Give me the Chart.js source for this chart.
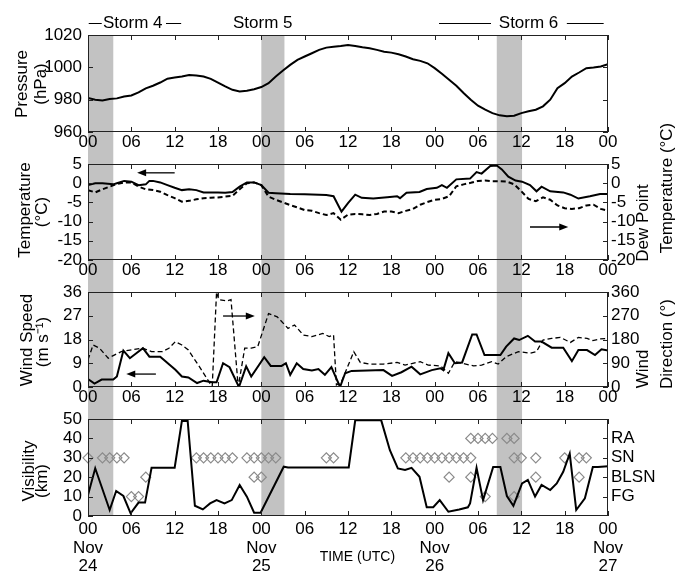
<!DOCTYPE html>
<html>
<head>
<meta charset="utf-8">
<script src="https://cdn.jsdelivr.net/npm/chart.js@4/dist/chart.umd.min.js"></script>
<style>
    html, body { margin: 0; padding: 0; background: #fff; }
    #wrap { position: relative; width: 680px; height: 573px; }
    #wrap canvas { position: absolute; left: 0; top: 0; }
</style>
</head>
<body>
<div id="wrap">
    <canvas id="pressureChart" width="680" height="573"></canvas>
    <canvas id="tempChart" width="680" height="573"></canvas>
    <canvas id="windChart" width="680" height="573"></canvas>
    <canvas id="visChart" width="680" height="573"></canvas>
</div>
<script>
// Time axis (hours since 00 UTC Nov 24)
const hourTicks = [0, 6, 12, 18, 24, 30, 36, 42, 48, 54, 60, 66, 72];
const hourLabels = ['00', '06', '12', '18', '00', '06', '12', '18', '00', '06', '12', '18', '00'];
const dateTicks = [0, 24, 48, 72];
const dateLabels = [['Nov', '24'], ['Nov', '25'], ['Nov', '26'], ['Nov', '27']];

// Storm periods (shaded) in hours
const stormBands = [[0, 3.5], [24, 27.2], [56.6, 60.1]];

// Pressure (hPa), hourly
const pressureHours = [0,1,2,3,4,5,6,7,8,9,10,11,12,13,14,15,16,17,18,19,20,21,22,23,24,25,26,27,28,29,30,31,32,33,34,35,36,37,38,39,40,41,42,43,44,45,46,47,48,49,50,51,52,53,54,55,56,57,58,59,60,61,62,63,64,65,66,67,68,69,70,71,72];
const pressure = [981,980,979.5,980.4,980.8,982,982.6,984.5,987,988.6,990.6,993,993.7,994.3,995.2,995,994.3,992.9,990.6,988.2,986.1,985.1,985.5,986.5,987.8,990.2,994.3,998,1001.5,1004.6,1006.7,1008.7,1010.8,1012.2,1012.8,1013.2,1013.8,1013.2,1012.4,1011.8,1010.8,1009.7,1009.1,1008.1,1006.7,1005,1004,1002.5,999.5,996,992.3,988.6,984.1,980,976.3,973.8,971.7,970.3,969.7,970.1,971.7,972.8,973.8,975.9,980,987.1,990.2,994.3,996.8,999.5,999.9,1000.5,1002];

// Temperature (°C)
const tempHours = [0,1,2,3.5,4,5,6,7,8,8.5,9,10,11,12,13,14,15,16,17,18,19,20,21,22,23,24,25,26,28,30,32,33,34,35.1,36,37,37.9,39.5,41.8,42.8,43.2,44.1,45.9,46.9,48.3,49,49.7,51,52.9,53.8,54.5,55.7,56.6,57.3,58.2,59.2,60.1,61.2,62.1,62.8,64,65.8,66.8,67.9,69.5,70.9,72];
const temperature = [-0.5,0,0,-0.3,0,0.6,0.4,-0.5,-0.3,0.6,0.6,0.2,-0.5,-1.2,-1.8,-1.6,-1.8,-2.4,-2.4,-2.4,-2.5,-2.3,-0.9,0.2,0.2,-0.5,-2.5,-2.6,-2.8,-2.9,-3.0,-3.1,-3.4,-7.4,-5.2,-3,-3.8,-4,-3.6,-3.4,-3.9,-2.5,-2.3,-1.5,-1.2,-0.5,-1.2,1,1.2,2.9,2.5,4.5,4.6,3.6,1.7,0.7,0.4,-0.5,-2.1,-0.9,-2.1,-2.4,-3,-4,-3.4,-2.8,-2.8];

// Dew point (°C)
const dewHours = [0,1,2,3,4,5,6,7,8,9,10,11,12,13,14,15,16,17,18,19,20,21,22,23,24,25,26,27,28,29,30,31,32,33,34,35,36,37,38,39,40,41,42,43,44,45,46,47,48,49,50,51,52,53,54,55,56,57,58,59,60,61,62,63,64,65,66,67,68,69,70,71,72];
const dewPoint = [-1.8,-2.4,-1.6,-0.9,-0.2,0.2,0.2,-0.9,-1.6,-1.8,-2.2,-3.1,-3.9,-4.8,-4.6,-4.2,-3.9,-3.8,-3.7,-3.5,-3.3,-1.6,0,0.2,-0.5,-3.5,-4.3,-5,-5.7,-6.3,-7,-7.2,-7.8,-8.3,-7.8,-9.5,-8.2,-8,-8.1,-8.3,-8,-7.4,-7.4,-7.8,-7.2,-6.7,-5.6,-4.9,-4.3,-4.1,-3.4,-0.8,-0.3,0.1,0.6,0.7,0.5,0.5,0.4,-0.3,-2.1,-4.1,-4.7,-3.7,-4.3,-5.8,-6.5,-6.7,-6.5,-5.8,-5.6,-6.7,-7.2];

// Wind speed (m s-1)
const windHours = [0,0.9,1.9,3.5,4,4.9,5.8,7.6,8.5,10,12.1,13,13.9,15.1,16,17.2,17.8,18.7,19.6,20.9,21.9,22.6,24.4,25.3,26.8,27.4,28,28.9,29.8,31,31.9,32.8,33.7,34.9,35.6,36.5,40.9,42.1,43.4,44.8,46,47.6,48.8,49.2,49.9,50.8,51.8,53.2,53.8,54.9,57.1,57.9,59,59.7,60.9,61.9,62.8,64.2,65.8,67,67.9,69.1,70.2,71.1,72];
const windSpeed = [3,1.3,2.8,2.8,4,13.8,10.9,14.7,11.5,11.5,6.5,4,3.6,1.5,2.4,1.8,1.8,9,7.5,0,7.8,4,11.3,8,8,9,4.6,9,6.8,6.3,6.8,4.6,7.5,0,5.2,6.1,6.4,4.2,5.6,7.7,4.8,6.4,7.1,6.4,12.8,9,9.3,19.9,19.9,12.1,12.1,15.3,18.4,17.8,19.4,17.2,17.2,14.9,14.9,9.8,14,14,12.1,14.3,13.8];

// Wind direction (deg)
const dirHours = [0,0.7,1.6,2.8,3.7,4.6,5.8,7.6,8.8,10.3,11.2,12.1,13,13.9,15.4,16.9,17.2,17.8,18.1,19.3,19.8,20.8,21.7,22.6,23.5,24.1,25,26.2,27.7,28.6,29.8,31,32.5,33.4,34,34.4,35.1,36.8,37.7,39,40.9,42.8,43.9,46,47.1,48.8,49.9,50.8,51.8,53.4,54.5,55.9,56.8,57.9,59.6,61.2,62.1,63,64.2,65.4,66.8,67.9,69.1,69.9,70.9,72];
const windDir = [103,159,147,109,122,134,140,147,134,134,147,172,159,140,78,13,3,360,331,326,331,0,147,147,153,203,278,266,222,235,197,191,203,191,197,8,20,134,93,87,87,93,83,96,83,80,52,96,90,80,83,96,87,115,134,128,134,178,184,188,169,188,184,176,182,184];

// Visibility (km)
const visHours = [0,1,3,3.9,4.9,5.9,7,7.9,8.8,12,13,13.8,14.8,15.9,16.9,17.8,18.9,19.9,21,22,23,23.9,27.1,27.7,36.1,37,40.6,41.8,42.9,43.9,44.8,45.9,46.9,47.8,48.7,49.9,51.4,52.6,52.9,53.8,54.7,56.1,57.1,58,58.9,60.1,60.9,61.9,62.8,64,64.9,65.8,66.7,67.6,68.8,69.9,70.6,72];
const visibility = [10.8,24.6,3.1,12.9,10.3,1.4,6.9,6.9,24.9,24.9,49,49,5.3,3.4,6.5,8.2,6.5,8.2,16,10,1.7,1.7,25.4,25,25,49.3,49.3,33.9,24.5,23.7,24.8,20.2,4.5,4.5,8.2,2.2,3.4,4.5,6.5,24.8,8.2,25.3,25.3,10.3,5.2,16.8,18.6,10,16,13.4,16.8,22.8,32.2,3.1,9.1,25.3,25.3,25.6];

// Present weather codes
const wxCodes = ['FG', 'BLSN', 'SN', 'RA'];
const wxLevels = [10, 20, 30, 40];
const fgHours = [6, 7, 55, 59];
const blsnHours = [8, 23, 24, 50, 53, 62, 68];
const snHours = [0, 2, 3, 4, 5, 15, 16, 17, 18, 19, 20, 22, 23, 24, 25, 26, 33, 34, 44, 45, 46, 47, 48, 49, 50, 51, 52, 53, 59, 60, 62, 66, 68, 69];
const raHours = [53, 54, 55, 56, 58, 59];

// Y tick values
const pressureTicks = [960, 980, 1000, 1020];
const tempTicks = [-20, -15, -10, -5, 0, 5];
const speedTicks = [0, 9, 18, 27, 36];
const dirTicks = [0, 90, 180, 270, 360];
const visTicks = [0, 10, 20, 30, 40, 50];

// Storm labels along the top
const storms = [
    { name: 'Storm 4', at: 6.2, lines: [[0.1, 1.9], [10.8, 12.9]] },
    { name: 'Storm 5', at: 24.2, lines: [] },
    { name: 'Storm 6', at: 61, lines: [[48.6, 55.8], [66.3, 71.4]] }
];

const FONT = "'Liberation Sans', Arial, sans-serif";
const BAND_COLOR = '#c2c2c2';
const CANVAS_H = 573;
const LEFT_W = 88;
const RIGHT_W = 72;

Chart.defaults.font.family = FONT;
Chart.defaults.font.size = 17;
Chart.defaults.color = '#000';

function zip(xs, ys) {
    return xs.map((x, i) => ({ x: x, y: ys[i] }));
}

function level(hours, value) {
    return hours.map(h => ({ x: h, y: value }));
}

// Rotated text (reads bottom to top)
function vText(ctx, text, x, y, size) {
    ctx.save();
    ctx.translate(x, y);
    ctx.rotate(-Math.PI / 2);
    ctx.font = `${size || 17}px ${FONT}`;
    ctx.fillStyle = '#000';
    ctx.textAlign = 'center';
    ctx.textBaseline = 'middle';
    ctx.fillText(text, 0, 0);
    ctx.restore();
}

function drawArrow(ctx, x0, y0, x1, y1) {
    const dir = Math.sign(x1 - x0);
    ctx.save();
    ctx.strokeStyle = '#000';
    ctx.fillStyle = '#000';
    ctx.lineWidth = 1.3;
    ctx.beginPath();
    ctx.moveTo(x0, y0);
    ctx.lineTo(x1 - dir * 6, y1);
    ctx.stroke();
    ctx.beginPath();
    ctx.moveTo(x1, y1);
    ctx.lineTo(x1 - dir * 9, y1 - 3.5);
    ctx.lineTo(x1 - dir * 9, y1 + 3.5);
    ctx.closePath();
    ctx.fill();
    ctx.restore();
}

// Shading, frame, inward ticks, titles and arrows for one panel
function makeDecor(spec) {
    return {
        id: 'decor',
        beforeDraw(chart) {
            const { ctx, chartArea: a, scales: { x } } = chart;
            ctx.save();
            ctx.fillStyle = BAND_COLOR;
            stormBands.forEach(([h0, h1]) => {
                const x0 = x.getPixelForValue(h0);
                const x1 = x.getPixelForValue(h1);
                ctx.fillRect(x0, a.top, x1 - x0, spec.bandBottom - a.top);
            });
            ctx.restore();
        },
        afterDraw(chart) {
            const { ctx, chartArea: a, scales } = chart;
            ctx.save();
            ctx.strokeStyle = '#222';
            ctx.lineWidth = 1;
            ctx.strokeRect(a.left + 0.5, a.top + 0.5, a.right - a.left - 1, a.bottom - a.top - 1);

            // inward tick marks
            ctx.beginPath();
            scales.x.ticks.forEach(t => {
                const px = Math.round(scales.x.getPixelForValue(t.value)) + 0.5;
                ctx.moveTo(px, a.top); ctx.lineTo(px, a.top + 5);
                ctx.moveTo(px, a.bottom); ctx.lineTo(px, a.bottom - 5);
            });
            scales.y.ticks.forEach(t => {
                const py = Math.round(scales.y.getPixelForValue(t.value)) + 0.5;
                ctx.moveTo(a.left, py); ctx.lineTo(a.left + 5, py);
                if (!scales.yR) { ctx.moveTo(a.right, py); ctx.lineTo(a.right - 5, py); }
            });
            if (scales.yR) {
                scales.yR.ticks.forEach(t => {
                    const py = Math.round(scales.yR.getPixelForValue(t.value)) + 0.5;
                    ctx.moveTo(a.right, py); ctx.lineTo(a.right - 5, py);
                });
            }
            ctx.stroke();
            ctx.restore();

            // axis titles
            spec.titles.forEach(t => vText(ctx, t.text, t.x, t.y));

            // arrows pointing at the axis of each curve
            (spec.arrows || []).forEach(ar => {
                const s = scales[ar.axis];
                const y = s.getPixelForValue(ar.value);
                drawArrow(ctx, scales.x.getPixelForValue(ar.from), y, scales.x.getPixelForValue(ar.to), y);
            });

            if (spec.extra) spec.extra(chart);
        }
    };
}

// Storm names above the top panel
function drawStorms(chart) {
    const { ctx, chartArea: a, scales: { x } } = chart;
    const y = a.top - 12;
    ctx.save();
    ctx.font = `17px ${FONT}`;
    ctx.fillStyle = '#000';
    ctx.strokeStyle = '#000';
    ctx.lineWidth = 1;
    ctx.textAlign = 'center';
    ctx.textBaseline = 'middle';
    storms.forEach(s => {
        ctx.fillText(s.name, x.getPixelForValue(s.at), y);
        s.lines.forEach(([h0, h1]) => {
            ctx.beginPath();
            ctx.moveTo(x.getPixelForValue(h0), y + 0.5);
            ctx.lineTo(x.getPixelForValue(h1), y + 0.5);
            ctx.stroke();
        });
    });
    ctx.restore();
}

function drawTimeTitle(chart) {
    const { ctx, chartArea: a, scales: { x } } = chart;
    ctx.save();
    ctx.font = `14px ${FONT}`;
    ctx.fillStyle = '#000';
    ctx.textAlign = 'center';
    ctx.textBaseline = 'middle';
    ctx.fillText('TIME (UTC)', x.getPixelForValue(37.3), a.bottom + 41);
    ctx.restore();
}

function xScale(withDates, axisH) {
    return {
        type: 'linear',
        min: 0,
        max: 72,
        grid: { display: false, drawTicks: false },
        border: { display: false },
        afterBuildTicks: s => { s.ticks = hourTicks.map(v => ({ value: v })); },
        afterFit: s => { s.height = axisH; },
        ticks: {
            autoSkip: false,
            maxRotation: 0,
            padding: withDates ? 4 : 2,
            font: { size: 17, lineHeight: withDates ? 1.1 : 1.0 },
            callback: v => {
                const label = hourLabels[hourTicks.indexOf(v)];
                const d = dateTicks.indexOf(v);
                return withDates && d >= 0 ? [label].concat(dateLabels[d]) : label;
            }
        }
    };
}

function yScale(min, max, values, position, labels) {
    return {
        type: 'linear',
        position: position,
        min: min,
        max: max,
        grid: { display: false, drawTicks: false },
        border: { display: false },
        afterBuildTicks: s => { s.ticks = values.map(v => ({ value: v })); },
        afterFit: s => { s.width = position === 'left' ? LEFT_W : RIGHT_W; },
        ticks: {
            autoSkip: false,
            padding: position === 'left' ? 6 : 3,
            callback: v => labels ? labels[values.indexOf(v)] : String(v)
        }
    };
}

function solid(data, axis) {
    return { data: data, yAxisID: axis || 'y', borderColor: '#000', borderWidth: 2, pointRadius: 0, tension: 0 };
}

function dashed(data, axis, width) {
    return { data: data, yAxisID: axis, borderColor: '#000', borderWidth: width, borderDash: [5, 3], pointRadius: 0, tension: 0 };
}

function diamonds(data) {
    return {
        data: data, yAxisID: 'yR', showLine: false, clip: false,
        pointStyle: 'rectRot', pointRadius: 5,
        pointBorderColor: '#8a8a8a', pointBackgroundColor: 'rgba(255,255,255,0)', pointBorderWidth: 1.2
    };
}

function makeChart(id, panel, datasets, scales, spec) {
    return new Chart(document.getElementById(id), {
        type: 'line',
        data: { datasets: datasets },
        options: {
            responsive: false,
            animation: false,
            events: [],
            layout: { padding: { top: panel.top, bottom: CANVAS_H - panel.bottom - panel.axisH, left: 0, right: scales.yR ? 0 : RIGHT_W } },
            plugins: { legend: { display: false }, tooltip: { enabled: false } },
            scales: scales
        },
        plugins: [makeDecor(spec)]
    });
}

function init() {
    // Pressure panel
    makeChart('pressureChart', { top: 35, bottom: 132, axisH: 21 },
        [solid(zip(pressureHours, pressure))],
        { x: xScale(false, 21), y: yScale(960, 1020, pressureTicks, 'left') },
        {
            bandBottom: 164,
            titles: [{ text: 'Pressure', x: 22, y: 84 }, { text: '(hPa)', x: 41, y: 84 }],
            extra: drawStorms
        });

    // Temperature / dew point panel
    makeChart('tempChart', { top: 164, bottom: 260, axisH: 21 },
        [solid(zip(tempHours, temperature)), dashed(zip(dewHours, dewPoint), 'yR', 2)],
        { x: xScale(false, 21), y: yScale(-20, 5, tempTicks, 'left'), yR: yScale(-20, 5, tempTicks, 'right') },
        {
            bandBottom: 292,
            titles: [
                { text: 'Temperature', x: 25, y: 210 }, { text: '(°C)', x: 42, y: 212 },
                { text: 'Dew Point', x: 643, y: 223 }, { text: 'Temperature (°C)', x: 667, y: 188 }
            ],
            arrows: [{ axis: 'y', value: 2.7, from: 12, to: 6.8 }, { axis: 'y', value: -11.4, from: 61.2, to: 66.5 }]
        });

    // Wind panel
    makeChart('windChart', { top: 292, bottom: 387, axisH: 21 },
        [solid(zip(windHours, windSpeed)), dashed(zip(dirHours, windDir), 'yR', 1.3)],
        { x: xScale(false, 21), y: yScale(0, 36, speedTicks, 'left'), yR: yScale(0, 360, dirTicks, 'right') },
        {
            bandBottom: 419,
            titles: [
                { text: 'Wind Speed', x: 27, y: 340 }, { text: '(m s⁻¹)', x: 43, y: 342 },
                { text: 'Wind', x: 643, y: 369 }, { text: 'Direction (°)', x: 667, y: 344 }
            ],
            arrows: [{ axis: 'y', value: 4.9, from: 9.4, to: 5.3 }, { axis: 'y', value: 26.9, from: 18.7, to: 23.1 }]
        });

    // Visibility / weather panel
    makeChart('visChart', { top: 419, bottom: 516, axisH: 57 },
        [
            solid(zip(visHours, visibility)),
            diamonds(level(fgHours, wxLevels[0])),
            diamonds(level(blsnHours, wxLevels[1])),
            diamonds(level(snHours, wxLevels[2])),
            diamonds(level(raHours, wxLevels[3]))
        ],
        { x: xScale(true, 57), y: yScale(0, 50, visTicks, 'left'), yR: yScale(0, 50, wxLevels, 'right', wxCodes) },
        {
            bandBottom: 516,
            titles: [{ text: 'Visibility', x: 29, y: 471 }, { text: '(km)', x: 42, y: 481 }],
            extra: drawTimeTitle
        });
}

if (document.readyState === 'loading') {
    document.addEventListener('DOMContentLoaded', init);
} else {
    init();
}
</script>
</body>
</html>
